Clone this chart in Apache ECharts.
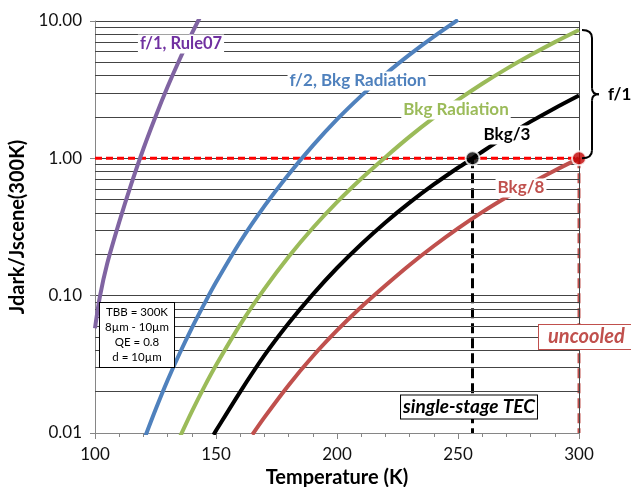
<!DOCTYPE html>
<html><head><meta charset="utf-8">
<script src="https://cdn.jsdelivr.net/npm/echarts@6/dist/echarts.min.js"></script>
<style>html,body{margin:0;padding:0;background:#fff}#c{width:631px;height:487px}</style>
</head><body><div id="c"></div>
<script>
// ---- data (Temperature K, Jdark/Jscene) ----
const rule07F1 = [[100,0.058],[102,0.098],[105,0.17],[110,0.343],[115,0.652],[120,1.175],[125,2.01],[130,3.32],[135,5.27],[140,8.09],[144,11.2]];
const bkgF2 = [[120,0.0087],[125,0.01475],[130,0.0242],[135,0.0381],[140,0.0581],[145,0.086],[150,0.125],[160,0.247],[170,0.449],[180,0.764],[190,1.237],[200,1.92],[210,2.85],[220,4.10],[230,5.69],[240,7.70],[250,10.2]];
const bkgRad = [[135,0.0093],[140,0.0143],[145,0.0214],[150,0.0311],[160,0.0615],[170,0.112],[180,0.192],[190,0.311],[200,0.48],[210,0.711],[220,1.02],[230,1.44],[240,1.98],[250,2.66],[260,3.49],[270,4.48],[280,5.65],[290,7.02],[300,8.6]];
const bkg3 = [[149,0.0097],[150,0.0104],[160,0.01995],[170,0.0367],[180,0.0629],[190,0.1022],[200,0.159],[210,0.237],[220,0.3415],[230,0.476],[240,0.645],[250,0.854],[256,1.0],[260,1.117],[270,1.45],[280,1.85],[290,2.32],[300,2.87]];
const bkg8 = [[165,0.00972],[170,0.013],[180,0.0223],[190,0.0362],[200,0.0558],[210,0.0827],[220,0.1186],[230,0.1674],[240,0.23],[250,0.309],[260,0.406],[270,0.521],[280,0.657],[290,0.816],[300,1.0]];
const refLine = [[100,1],[300,1]];
const tecLine = [[256,1],[256,0.01]];
const uncooledLine = [[300,1],[300,0.01]];
const tecPoint = [[256,1]];
const uncooledPoint = [[300,1]];
const minorGrid = [0.02,0.03,0.04,0.05,0.06,0.07,0.08,0.09,0.2,0.3,0.4,0.5,0.6,0.7,0.8,0.9,2,3,4,5,6,7,8,9];
const infoLines = ['TBB = 300K','8µm - 10µm','QE = 0.8','d = 10µm'];

const FONT = 'Lato, "Open Sans", sans-serif';
const chart = echarts.init(document.getElementById('c'), null, {renderer:'canvas'});

function curve(name, data, color){
  return {name, type:'line', data, smooth:0.3, symbol:'none', z:5,
    lineStyle:{color, width:4}, animation:false, silent:true};
}

chart.setOption({
  animation:false,
  backgroundColor:'#fff',
  grid:{left:95, right:52, top:21, bottom:54, containLabel:false, outerBoundsMode:'none'},
  xAxis:{type:'value', min:100, max:300, interval:50,
    name:'Temperature (K)', nameLocation:'middle', nameGap:33,
    nameTextStyle:{fontFamily:FONT, fontSize:20, fontWeight:'bold', color:'#000'},
    axisLine:{show:true, lineStyle:{color:'#868686', width:1}},
    axisTick:{show:true, length:6, lineStyle:{color:'#868686'}},
    minorTick:{show:true, splitNumber:5, length:4, lineStyle:{color:'#868686'}},
    splitLine:{show:false},
    axisLabel:{fontFamily:FONT, fontSize:17, color:'#111', margin:13}
  },
  yAxis:{type:'log', logBase:10, min:0.01, max:10,
    name:'Jdark/Jscene(300K)', nameLocation:'middle', nameGap:63,
    nameTextStyle:{fontFamily:FONT, fontSize:20, fontWeight:'bold', color:'#000'},
    axisLine:{show:true, lineStyle:{color:'#868686', width:1}},
    axisTick:{show:true, length:5, lineStyle:{color:'#868686'}},
    splitLine:{show:true, lineStyle:{color:'#444', width:1}},
    axisLabel:{fontFamily:FONT, fontSize:17, color:'#111', margin:13,
      formatter:v=>Number(v).toFixed(2)}
  },
  series:[
    {type:'line', data:[], silent:true, z:1, animation:false,
      markLine:{silent:true, symbol:['none','none'], label:{show:false}, animation:false,
        lineStyle:{color:'#444', width:1, type:'solid'},
        data:minorGrid.map(v=>({yAxis:v})).concat([{xAxis:300}])}},
    {type:'line', data:refLine, symbol:'none', z:3, silent:true, animation:false,
      lineStyle:{color:'#FF0000', width:3, type:[7,4]}},
    {type:'line', data:tecLine, symbol:'none', z:3, silent:true, animation:false,
      lineStyle:{color:'#000', width:3, type:[10,5]}},
    {type:'line', data:uncooledLine, symbol:'none', z:3, silent:true, animation:false,
      lineStyle:{color:'#C0504D', width:3, type:[10,5]}},
    curve('f/1, Rule07', rule07F1, '#8064A2'),
    curve('f/2, Bkg Radiation', bkgF2, '#4F81BD'),
    curve('Bkg Radiation', bkgRad, '#9BBB59'),
    curve('Bkg/3', bkg3, '#000000'),
    curve('Bkg/8', bkg8, '#C0504D'),
    {type:'scatter', data:tecPoint, symbolSize:14, z:8, silent:true, animation:false,
      itemStyle:{color:'#000', borderColor:'#fff', borderWidth:2}},
    {type:'scatter', data:uncooledPoint, symbolSize:14, z:8, silent:true, animation:false,
      itemStyle:{color:'#C00000', borderColor:'#fff', borderWidth:2}}
  ]
});

const pTop = chart.convertToPixel({gridIndex:0}, [300, bkgRad[bkgRad.length-1][1]]);
const pBot = chart.convertToPixel({gridIndex:0}, [300, 1]);
const x0 = pTop[0]+3, xv = x0+10, xt = x0+17, mid = (pTop[1]+pBot[1])/2;
const bStyle = {stroke:'#000', lineWidth:2, fill:null};
function bz(x1,y1,cx,cy,x2,y2){return {type:'bezierCurve', z:100, shape:{x1,y1,cpx1:cx,cpy1:cy,x2,y2}, style:bStyle};}
function ln(x1,y1,x2,y2){return {type:'line', z:100, shape:{x1,y1,x2,y2}, style:bStyle};}

function lbl(text, x, y, color, opts){
  return {type:'text', z:100, style:Object.assign({text, x, y, fill:color,
    font:'bold 16px '+FONT, align:'center', verticalAlign:'middle',
    backgroundColor:'#fff', padding:[1,2]}, opts||{})};
}
chart.setOption({graphic:[
  bz(x0,pTop[1], xv,pTop[1], xv,pTop[1]+8),
  ln(xv,pTop[1]+8, xv,mid-6),
  bz(xv,mid-6, xv,mid, xt,mid),
  bz(xt,mid, xv,mid, xv,mid+6),
  ln(xv,mid+6, xv,pBot[1]-8),
  bz(xv,pBot[1]-8, xv,pBot[1], x0,pBot[1]),
  lbl('f/1', xt+7, mid, '#000', {align:'left', font:'bold 17px '+FONT, backgroundColor:null}),
  lbl('f/1, Rule07', 181, 44, '#7030A0', {font:'bold 16.5px '+FONT}),
  lbl('f/2, Bkg Radiation', 358, 81, '#4F81BD', {font:'bold 17px '+FONT}),
  lbl('Bkg Radiation', 456, 110, '#9BBB59', {font:'bold 17px '+FONT}),
  lbl('Bkg/3', 507, 135, '#000', {font:'bold 17px '+FONT}),
  lbl('Bkg/8', 521, 188, '#C0504D', {font:'bold 17px '+FONT}),
  lbl('uncooled', 539, 337, '#C0504D', {align:'left', font:'italic bold 20px '+FONT, borderColor:'#C0504D', borderWidth:1, padding:[2,12,2,9]}),
  lbl('single-stage TEC', 469, 407, '#000', {font:'italic bold 19px '+FONT, borderColor:'#000', borderWidth:1, padding:[2,2,2,2]}),
  lbl(infoLines.join('\n'), 137, 335, '#000', {font:'11.5px '+FONT, lineHeight:15, borderColor:'#000', borderWidth:1, padding:[2,5,2,5]})
]});
</script></body></html>
